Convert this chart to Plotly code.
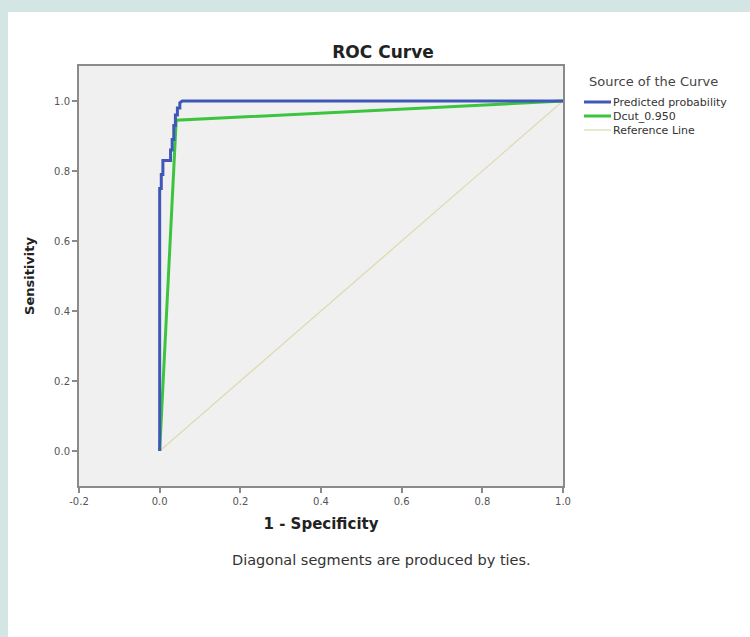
import plotly.graph_objects as go

# ROC data
pred_fpr = [0.0, 0.0, 0.004, 0.004, 0.008, 0.008, 0.027, 0.027, 0.031, 0.031,
            0.035, 0.035, 0.039, 0.039, 0.044, 0.044, 0.050, 0.050, 0.056, 1.0]
pred_tpr = [0.0, 0.75, 0.75, 0.79, 0.79, 0.83, 0.83, 0.86, 0.86, 0.89,
            0.89, 0.93, 0.93, 0.96, 0.96, 0.98, 0.98, 0.995, 1.0, 1.0]
dcut_fpr = [0.0, 0.041, 1.0]
dcut_tpr = [0.0, 0.945, 1.0]
ref_x = [0.0, 1.0]
ref_y = [0.0, 1.0]
tick_vals_x = [-0.2, 0.0, 0.2, 0.4, 0.6, 0.8, 1.0]
tick_text_x = ["-0.2", "0.0", "0.2", "0.4", "0.6", "0.8", "1.0"]
tick_vals_y = [0.0, 0.2, 0.4, 0.6, 0.8, 1.0]
tick_text_y = ["0.0", "0.2", "0.4", "0.6", "0.8", "1.0"]

series_names = ["Predicted probability", "Dcut_0.950", "Reference Line"]
series_colors = ["#3f58b8", "#3cc43f", "#dedbb0"]
series_widths = [3, 3, 1.3]

FONT = "DejaVu Sans, Liberation Sans, Arial, sans-serif"

fig = go.Figure()
fig.add_trace(go.Scatter(x=ref_x, y=ref_y, mode="lines", name=series_names[2],
                         line=dict(color=series_colors[2], width=series_widths[2])))
fig.add_trace(go.Scatter(x=dcut_fpr, y=dcut_tpr, mode="lines", name=series_names[1],
                         line=dict(color=series_colors[1], width=series_widths[1])))
fig.add_trace(go.Scatter(x=pred_fpr, y=pred_tpr, mode="lines", name=series_names[0],
                         line=dict(color=series_colors[0], width=series_widths[0])))

L, R, T, B = 79, 187, 66, 151
W = 750 - L - R
H = 637 - T - B


def px_x(p):
    return (p - L) / W


def px_y(p):
    return (637 - B - p) / H


shapes = [
    dict(type="rect", xref="paper", yref="paper", x0=px_x(0), x1=px_x(8),
         y0=px_y(637), y1=px_y(0), fillcolor="#d4e6e4", line=dict(width=0), layer="below"),
    dict(type="rect", xref="paper", yref="paper", x0=px_x(0), x1=px_x(750),
         y0=px_y(12), y1=px_y(0), fillcolor="#d4e6e4", line=dict(width=0), layer="below"),
]

annotations = [
    dict(text="Diagonal segments are produced by ties.", xref="paper", yref="paper",
         x=px_x(381), y=px_y(560), xanchor="center", yanchor="middle",
         showarrow=False, font=dict(size=14.5, color="#333")),
    dict(text="Source of the Curve", xref="paper", yref="paper",
         x=px_x(587), y=px_y(81), xanchor="left", yanchor="middle",
         showarrow=False, font=dict(size=13, color="#444")),
]

# manual legend
legend_rows = [102, 116, 130]
for name, color, width, row in zip(series_names, series_colors, series_widths, legend_rows):
    shapes.append(dict(type="line", xref="paper", yref="paper",
                       x0=px_x(584), x1=px_x(611), y0=px_y(row), y1=px_y(row),
                       line=dict(color=color, width=width)))
    annotations.append(dict(text=name, xref="paper", yref="paper",
                            x=px_x(611), y=px_y(row), xanchor="left", yanchor="middle",
                            showarrow=False, font=dict(size=11, color="#333")))

fig.update_layout(
    width=750, height=637,
    margin=dict(l=L, r=R, t=T, b=B),
    paper_bgcolor="white",
    plot_bgcolor="#f0f0f0",
    font=dict(family=FONT, color="#333"),
    shapes=shapes,
    annotations=annotations,
    showlegend=False,
    title=dict(text="<b>ROC Curve</b>", x=383 / 750, xanchor="center",
               y=1 - 52 / 637, yanchor="middle", font=dict(size=17, color="#222")),
    xaxis=dict(range=[-0.2, 1.0], tickvals=tick_vals_x, ticktext=tick_text_x,
               showgrid=False, zeroline=False, showline=True, linecolor="#8a8a8a",
               linewidth=2, ticks="outside", tickcolor="#8a8a8a", ticklen=5,
               tickwidth=2, mirror=True, tickfont=dict(size=10, color="#555"),
               title=dict(text="<b>1 - Specificity</b>", font=dict(size=15, color="#222"),
                          standoff=12)),
    yaxis=dict(range=[-0.1, 1.1], tickvals=tick_vals_y, ticktext=tick_text_y,
               showgrid=False, zeroline=False, showline=True, linecolor="#8a8a8a",
               linewidth=2, ticks="outside", tickcolor="#8a8a8a", ticklen=5,
               tickwidth=2, mirror=True, tickfont=dict(size=10, color="#555"),
               title=dict(text="<b>Sensitivity</b>", font=dict(size=13, color="#222"),
                          standoff=17)),
)

fig.write_html("out.html")
